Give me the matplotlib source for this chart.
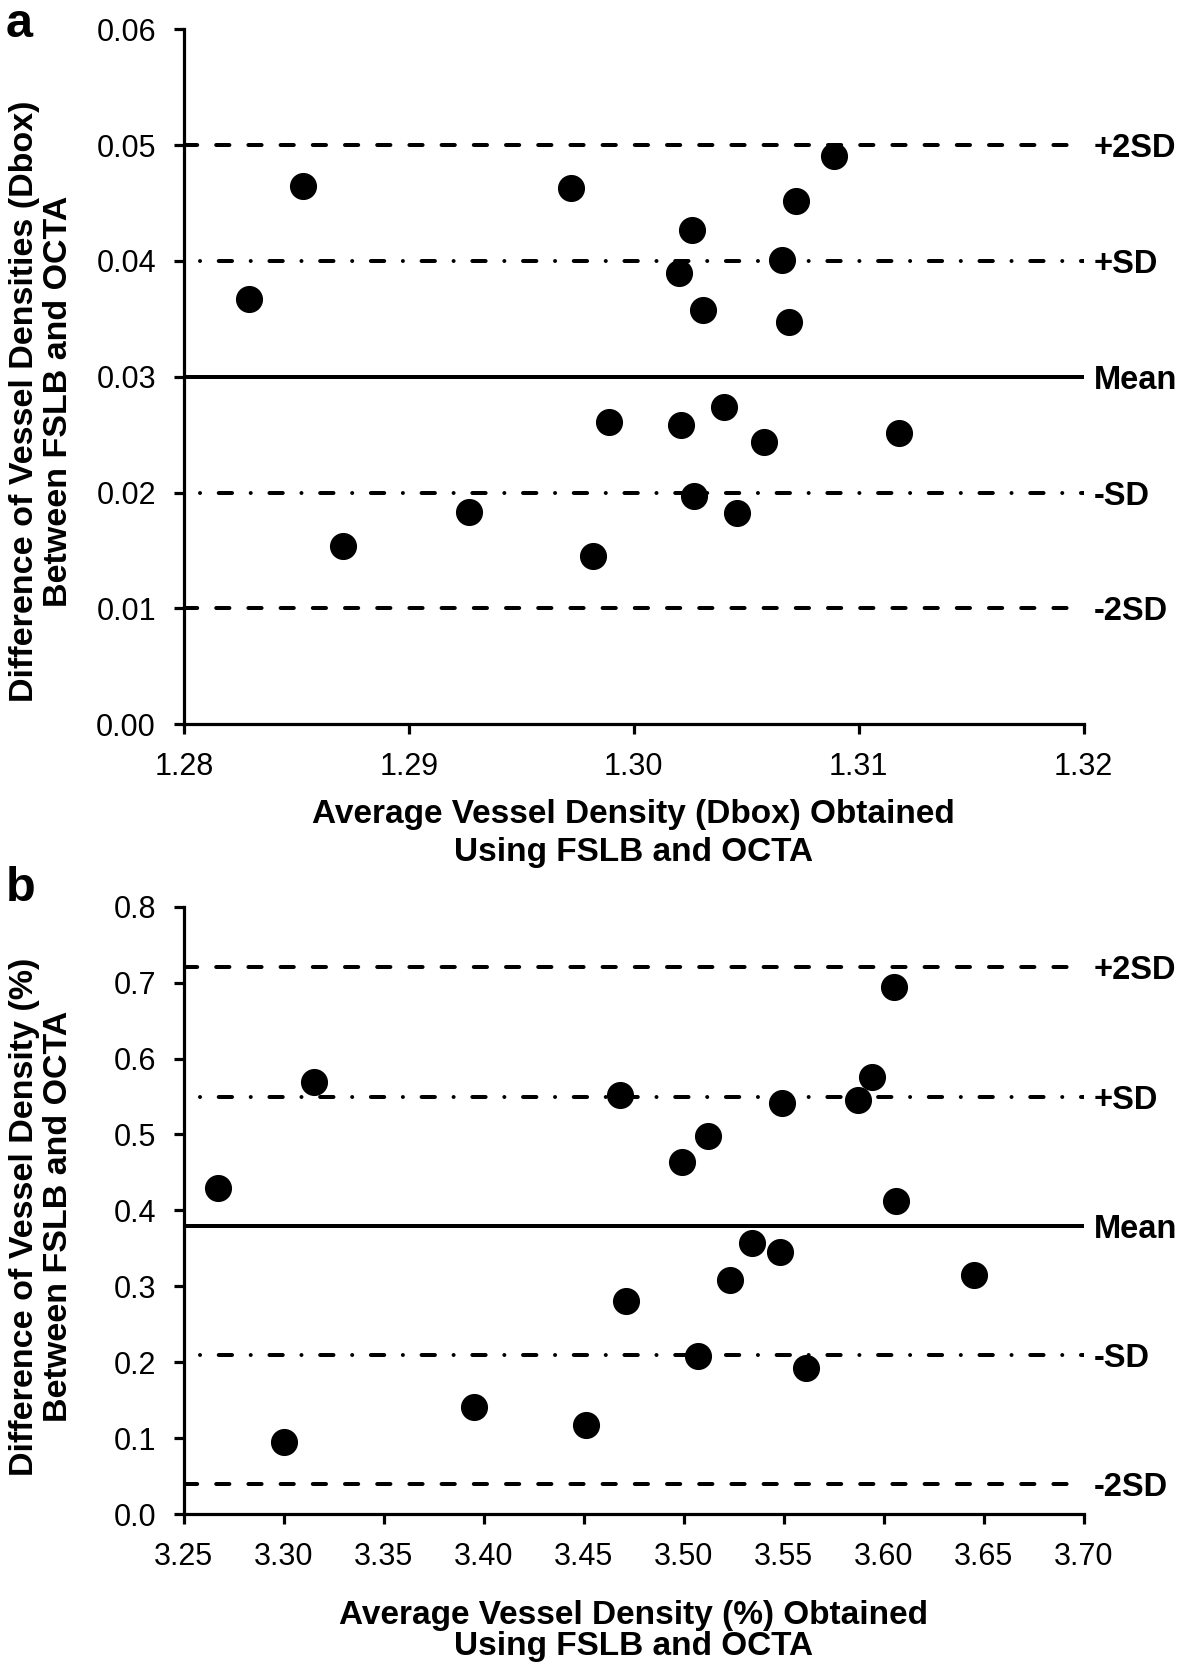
import numpy as np
import matplotlib
matplotlib.use("Agg")
import matplotlib.pyplot as plt

plt.rcParams['font.family'] = ['Liberation Sans', 'DejaVu Sans']

# ---- panel a: vessel density as Dbox ----
dbox_avg = [1.2829, 1.2853, 1.2871, 1.2927, 1.2972, 1.2982, 1.2989, 1.3020,
            1.3026, 1.3027, 1.3031, 1.3021, 1.3040, 1.3046, 1.3058, 1.3066,
            1.3069, 1.3072, 1.3089, 1.3118]
dbox_diff = [0.0367, 0.0465, 0.0154, 0.0183, 0.0463, 0.0145, 0.0261, 0.0390,
             0.0427, 0.0197, 0.0358, 0.0258, 0.0274, 0.0182, 0.0244, 0.0401,
             0.0347, 0.0452, 0.0491, 0.0251]
dbox_limits = [0.05, 0.04, 0.03, 0.02, 0.01]
dbox_xticks = [1.28, 1.29, 1.30, 1.31, 1.32]
dbox_yticks = [0.00, 0.01, 0.02, 0.03, 0.04, 0.05, 0.06]

# ---- panel b: vessel density in % ----
pct_avg = [3.267, 3.300, 3.315, 3.395, 3.451, 3.468, 3.471, 3.499, 3.507,
           3.512, 3.523, 3.534, 3.548, 3.549, 3.561, 3.587, 3.594, 3.605,
           3.606, 3.645]
pct_diff = [0.429, 0.095, 0.569, 0.141, 0.117, 0.552, 0.280, 0.464, 0.208,
            0.498, 0.308, 0.357, 0.345, 0.541, 0.193, 0.546, 0.576, 0.694,
            0.412, 0.315]
pct_limits = [0.72, 0.55, 0.38, 0.21, 0.04]
pct_xticks = [3.25, 3.30, 3.35, 3.40, 3.45, 3.50, 3.55, 3.60, 3.65, 3.70]
pct_yticks = [0.0, 0.1, 0.2, 0.3, 0.4, 0.5, 0.6, 0.7, 0.8]

limit_names = ['+2SD', '+SD', 'Mean', '-SD', '-2SD']

LW = 2.88
dashed = (0, (3.3, 4.75))
dashdot = (4.0, (3.33, 4.67, 0.01, 4.67))
limit_styles = [dashed, dashdot, '-', dashdot, dashed]


def draw_panel(ax, xs, ys, limits, xticks, yticks, xfmt, yfmt, xlabel, ylabel,
               xlabel_spacing):
    for val, name, ls in zip(limits, limit_names, limit_styles):
        ax.axhline(val, color='black', lw=LW, linestyle=ls,
                   dash_capstyle='round', solid_capstyle='butt', zorder=2)
        ax.annotate(name, xy=(1.0, val), xycoords=ax.get_yaxis_transform(),
                    xytext=(7, 0), textcoords='offset points',
                    ha='left', va='center_baseline', fontsize=23.5,
                    fontweight='bold', annotation_clip=False)
    ax.plot(xs, ys, 'o', color='black', markersize=18.5, zorder=3,
            clip_on=False)

    ax.set_xlim(xticks[0], xticks[-1])
    ax.set_ylim(yticks[0], yticks[-1])
    ax.set_xticks(xticks)
    ax.set_yticks(yticks)
    ax.set_xticklabels([xfmt.format(v) for v in xticks])
    ax.set_yticklabels([yfmt.format(v) for v in yticks])

    for side in ['top', 'right']:
        ax.spines[side].set_visible(False)
    for side in ['left', 'bottom']:
        ax.spines[side].set_linewidth(2.3)
    ax.tick_params(direction='out', length=7, width=2.3, labelsize=22,
                   pad=13)

    ax.set_xlabel(xlabel, fontsize=24, fontweight='bold',
                  linespacing=xlabel_spacing)
    ax.set_ylabel(ylabel, fontsize=24.5, fontweight='bold', linespacing=1.15)
    ax.yaxis.label.set_va('center')


fig = plt.figure(figsize=(11.81, 16.68), dpi=100)
ax_a = fig.add_axes([0.1556, 0.5659, 0.762, 0.4165])
ax_b = fig.add_axes([0.1556, 0.0923, 0.762, 0.3641])

draw_panel(ax_a, dbox_avg, dbox_diff, dbox_limits, dbox_xticks, dbox_yticks,
           '{:.2f}', '{:.2f}',
           'Average Vessel Density (Dbox) Obtained\nUsing FSLB and OCTA',
           'Difference of Vessel Densities (Dbox)\nBetween FSLB and OCTA', 1.3)
draw_panel(ax_b, pct_avg, pct_diff, pct_limits, pct_xticks, pct_yticks,
           '{:.2f}', '{:.1f}',
           'Average Vessel Density (%) Obtained\nUsing FSLB and OCTA',
           'Difference of Vessel Density (%)\nBetween FSLB and OCTA', 1.0)

ax_a.xaxis.labelpad = 12
ax_b.xaxis.labelpad = 20
ax_a.yaxis.set_label_coords(-0.158, 0.465)
ax_b.yaxis.set_label_coords(-0.158, 0.49)

fig.text(0.005, 0.999, 'a', fontsize=35, fontweight='bold', va='top')
fig.text(0.005, 0.481, 'b', fontsize=35, fontweight='bold', va='top')

fig.savefig('out.png', dpi=100)
